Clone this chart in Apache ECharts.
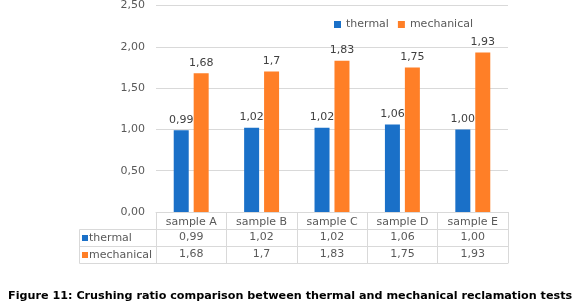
<!DOCTYPE html>
<html><head><meta charset="utf-8">
<script src="https://cdn.jsdelivr.net/npm/echarts@6/dist/echarts.min.js"></script>
<style>html,body{margin:0;padding:0;background:#fff}#c{width:580px;height:308px}</style>
</head><body><div id="c"></div>
<script>
var categories = ['sample A','sample B','sample C','sample D','sample E'];
var thermal = [0.99, 1.02, 1.02, 1.06, 1.00];
var mechanical = [1.68, 1.7, 1.83, 1.75, 1.93];
var seriesNames = ['thermal','mechanical'];
var yTicks = {min: 0, max: 2.5, interval: 0.5};
var caption = 'Figure 11: Crushing ratio comparison between thermal and mechanical reclamation tests';

var BLUE = '#1a70c8', ORANGE = '#ff7f27', GRID = '#d9d9d9', TXT = '#595959';
var FONT = 'DejaVu Sans';
function fmt2(v){ return v.toFixed(2).replace('.', ','); }
function fmtG(v){ return String(v).replace('.', ','); }
var thermalText = thermal.map(fmt2);
var mechText = mechanical.map(fmtG);

var chart = echarts.init(document.getElementById('c'));
var GL = 156, GR = 508, GB = 212;
function rowAxis(data, offset, showLabel, margin){
  return {
    type: 'category', data: data, position: 'bottom', offset: offset,
    axisLine: {show: true, lineStyle: {color: GRID, width: 1}},
    axisTick: {show: false},
    axisLabel: {show: showLabel, interval: 0, margin: margin, color: TXT, fontSize: 11, fontFamily: FONT},
    splitLine: {show: false}
  };
}
var x0 = rowAxis(categories, 0, true, 5);
x0.axisTick = {show: true, length: 51, interval: 0, alignWithLabel: false, lineStyle: {color: GRID}};
chart.setOption({
  animation: false,
  textStyle: {fontFamily: FONT},
  grid: {left: GL, right: 580 - GR, top: 5, bottom: 308 - GB},
  legend: {
    data: seriesNames, top: 14, left: 329, itemWidth: 7, itemHeight: 7, itemGap: 9,
    icon: 'rect', textStyle: {color: TXT, fontSize: 11, fontFamily: FONT}
  },
  xAxis: [x0, rowAxis(thermalText, 17, true, 3), rowAxis(mechText, 34, true, 3), rowAxis(categories, 51, false, 3)],
  yAxis: {
    type: 'value', min: yTicks.min, max: yTicks.max, interval: yTicks.interval,
    axisLine: {show: false}, axisTick: {show: false},
    axisLabel: {margin: 11, color: TXT, fontSize: 11, fontFamily: FONT, formatter: fmt2},
    splitLine: {lineStyle: {color: GRID, width: 1}}
  },
  series: [
    {name: seriesNames[0], type: 'bar', xAxisIndex: 0, data: thermal, barWidth: 15, barGap: '33%',
     itemStyle: {color: BLUE},
     label: {show: true, position: 'top', distance: 5, color: '#404040', fontSize: 11, fontFamily: FONT, formatter: function(p){return fmt2(p.value);}}},
    {name: seriesNames[1], type: 'bar', xAxisIndex: 0, data: mechanical, barWidth: 15, barGap: '33%',
     itemStyle: {color: ORANGE},
     label: {show: true, position: 'top', distance: 5, color: '#404040', fontSize: 11, fontFamily: FONT, formatter: function(p){return fmtG(p.value);}}}
  ],
  graphic: [
    {type: 'line', shape: {x1: 79.5, y1: 229.5, x2: 79.5, y2: 263.5}, style: {stroke: GRID, lineWidth: 1}},
    {type: 'line', shape: {x1: 79.5, y1: 229.5, x2: GL, y2: 229.5}, style: {stroke: GRID, lineWidth: 1}},
    {type: 'line', shape: {x1: 79.5, y1: 246.5, x2: GL, y2: 246.5}, style: {stroke: GRID, lineWidth: 1}},
    {type: 'line', shape: {x1: 79.5, y1: 263.5, x2: GL, y2: 263.5}, style: {stroke: GRID, lineWidth: 1}},
    {type: 'rect', shape: {x: 82, y: 235, width: 6, height: 6}, style: {fill: BLUE}},
    {type: 'rect', shape: {x: 82, y: 252, width: 6, height: 6}, style: {fill: ORANGE}},
    {type: 'text', x: 89, y: 238, style: {text: seriesNames[0], fill: TXT, font: '11px "DejaVu Sans"', verticalAlign: 'middle'}},
    {type: 'text', x: 89, y: 255, style: {text: seriesNames[1], fill: TXT, font: '11px "DejaVu Sans"', verticalAlign: 'middle'}},
    {type: 'text', x: 8, y: 296, style: {text: caption, fill: '#000', font: 'bold 11.2px "DejaVu Sans"', verticalAlign: 'middle'}}
  ]
});
</script></body></html>
